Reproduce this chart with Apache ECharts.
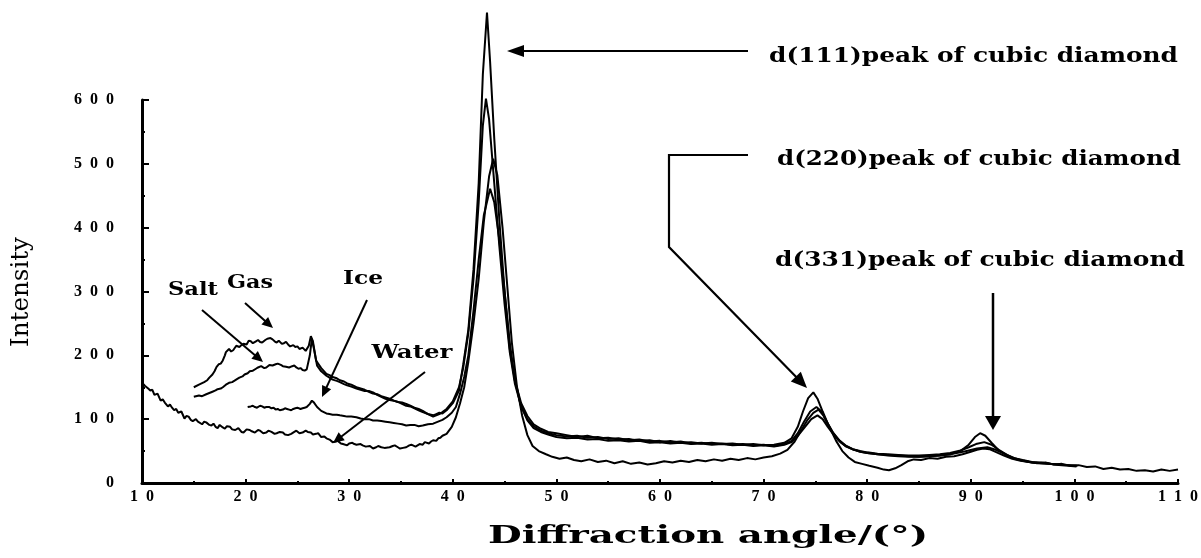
<!DOCTYPE html>
<html><head><meta charset="utf-8">
<script src="https://cdn.jsdelivr.net/npm/echarts/dist/echarts.min.js"></script>
<style>html,body{margin:0;padding:0;background:#fff}#c{width:1201px;height:558px}</style>
</head><body><div id="c"></div>
<script>
// ---- data (angle in degrees, intensity) ----
const xRange = [10, 110];
const yRange = [0, 600];
const xTitle = 'Diffraction angle/(°)';
const yTitle = 'Intensity';
const seriesNames = ['Salt', 'Gas', 'Ice', 'Water'];
const peakNotes = ['d(111)peak of cubic diamond', 'd(220)peak of cubic diamond', 'd(331)peak of cubic diamond'];

const water = [[10,157],[10.3,152],[10.6,148],[10.8,145],[11,146],[11.2,138],[11.5,140],[11.8,129],[12,131],[12.2,126],[12.5,120],[12.7,123],[12.9,118],[13.1,114],[13.3,116],[13.5,110],[13.8,112],[14.1,101],[14.3,105],[14.5,104],[14.7,99],[14.9,97],[15.2,100],[15.4,96],[15.8,92],[16,96],[16.2,95],[16.5,91],[16.7,90],[16.9,93],[17.1,88],[17.3,86],[17.5,91],[17.8,87],[18,85],[18.2,89],[18.5,88],[18.7,84],[19,83],[19.3,86],[19.6,80],[19.8,79],[20.1,84],[20.4,83],[20.6,81],[20.9,79],[21.2,83],[21.4,82],[21.7,78],[22,79],[22.2,82],[22.5,80],[22.8,77],[23,78],[23.3,80],[23.6,79],[23.8,76],[24.1,75],[24.4,77],[24.7,80],[24.9,82],[25.2,78],[25.5,79],[25.8,82],[26,80],[26.3,79],[26.5,76],[26.8,77],[27,78],[27.3,72],[27.6,73],[27.8,70],[28.1,68],[28.4,64],[28.7,65],[28.9,66],[29.2,62],[29.4,61],[29.8,59],[30,62],[30.3,63],[30.5,61],[30.7,60],[31.1,61],[31.3,59],[31.6,57],[32,58],[32.3,54],[32.6,56],[32.8,58],[33.1,56],[33.4,55],[33.9,56],[34.2,58],[34.4,59],[34.7,56],[34.9,54],[35.2,55],[35.5,56],[35.8,59],[36,60],[36.4,57],[36.6,59],[36.8,61],[37.1,60],[37.3,64],[37.7,62],[37.9,65],[38.1,67],[38.4,66],[38.6,70],[38.8,71],[39,74],[39.4,77],[39.9,88],[40.3,103],[40.7,125],[41.1,150],[41.5,190],[42,250],[42.5,320],[43,410],[43.5,480],[43.9,508],[44.3,482],[44.8,400],[45.2,320],[45.7,220],[46.2,150],[46.7,105],[47.2,75],[47.7,58],[48.3,50],[49,45],[49.6,41],[50.3,38],[51,40],[51.7,36],[52.4,34],[53.2,37],[54,33],[54.8,35],[55.6,31],[56.4,34],[57.2,30],[58,32],[58.8,29],[59.6,31],[60.4,34],[61.2,32],[62,35],[62.8,33],[63.6,36],[64.4,34],[65.2,37],[66,35],[66.8,38],[67.6,36],[68.4,39],[69.2,37],[70,40],[70.8,42],[71.6,46],[72.3,52],[73,65],[73.6,82],[74.2,98],[74.8,110],[75.3,115],[75.8,105],[76.4,86],[77,66],[77.6,50],[78.2,40],[78.8,33],[79.5,30],[80.2,27],[81,24],[81.6,21],[82.1,20],[82.7,23],[83.3,28],[83.9,34],[84.5,37],[85.2,36],[86,39],[86.8,38],[87.6,41],[88.4,42],[89.2,45],[90,49],[90.6,52],[91.2,54],[91.8,53],[92.5,48],[93.2,43],[94,38],[94.8,35],[95.6,33],[96.4,31],[97.2,32],[98,29],[98.8,30],[99.6,27],[100.4,28],[101.2,25],[102,26],[102.8,22],[103.6,24],[104.4,21],[105.2,22],[106,19],[106.8,20],[107.6,18],[108.4,21],[109.2,19],[110,21]];

const gas = [[15,150],[15.5,154],[16,158],[16.3,161],[16.5,165],[16.8,170],[17,175],[17.2,182],[17.4,186],[17.6,187],[17.8,192],[18,200],[18.1,205],[18.4,210],[18.6,206],[18.8,208],[19.1,215],[19.4,213],[19.6,216],[19.8,218],[20.1,217],[20.3,223],[20.5,222],[20.7,219],[21,222],[21.2,224],[21.4,221],[21.6,220],[21.9,224],[22.1,226],[22.4,227],[22.6,225],[22.8,222],[23,220],[23.2,223],[23.5,218],[23.7,219],[23.9,221],[24.1,217],[24.3,214],[24.6,216],[24.8,213],[25,214],[25.2,210],[25.5,212],[25.8,207],[26.1,215],[26.3,230],[26.5,222],[26.8,192],[27.3,180],[27.8,171],[28.1,169],[28.4,166],[28.8,164],[29.1,161],[29.5,159],[29.8,156],[30.2,154],[30.7,150],[31.1,148],[31.5,146],[31.9,143],[32.3,140],[32.7,139],[33.1,136],[33.5,134],[33.9,132],[34.3,129],[34.7,127],[35.1,124],[35.5,121],[35.9,120],[36.3,117],[36.7,114],[37.1,111],[37.6,108],[38.1,106],[38.4,108],[38.7,110],[39,109],[39.4,114],[40,125],[40.6,145],[41,185],[41.5,240],[42,335],[42.5,470],[42.9,640],[43.3,737],[43.6,660],[44,540],[44.5,410],[45,300],[45.5,210],[46,160],[46.6,125],[47.2,105],[47.8,92],[48.5,85],[49.2,80],[50,78],[51,75],[52,72],[53,74],[54,70],[55,71],[56,68],[57,69],[58,66],[59,67],[60,64],[61,66],[62,63],[63,64],[64,62],[65,63],[66,61],[67,62],[68,60],[69,61],[70,59],[71,60],[72,63],[72.7,70],[73.3,88],[73.8,112],[74.3,133],[74.8,142],[75.2,132],[75.7,112],[76.2,93],[76.7,79],[77.3,67],[77.9,58],[78.6,53],[79.3,49],[80,47],[81,45],[82,44],[83,43],[84,42],[85,41],[86,42],[87,43],[88,45],[89,50],[89.8,60],[90.4,72],[90.9,78],[91.4,74],[92,63],[92.7,51],[93.5,43],[94.2,38],[95,35],[95.9,32],[96.8,31],[97.6,30],[98.5,28],[99.4,27],[100.2,26]];

const salt = [[15,135],[15.5,137],[15.8,136],[16.2,139],[16.5,141],[16.8,143],[17.1,145],[17.3,147],[17.6,148],[17.8,150],[18.1,154],[18.4,157],[18.7,158],[18.9,160],[19.2,163],[19.4,165],[19.7,167],[19.9,170],[20.2,172],[20.4,175],[20.7,176],[21,179],[21.2,181],[21.5,183],[21.8,180],[22,181],[22.3,185],[22.6,184],[22.9,186],[23.1,187],[23.4,185],[23.6,183],[23.9,182],[24.2,181],[24.5,183],[24.7,184],[24.9,181],[25.1,179],[25.3,180],[25.5,177],[25.7,176],[25.9,178],[26.2,200],[26.4,226],[26.6,210],[26.9,184],[27.3,175],[27.8,168],[28.1,165],[28.4,162],[28.8,160],[29.1,158],[29.5,155],[29.8,153],[30.2,151],[30.7,148],[31.1,146],[31.5,144],[31.9,144],[32.3,142],[32.7,138],[33.1,135],[33.5,132],[33.9,130],[34.3,129],[34.7,127],[35.1,126],[35.5,124],[35.9,121],[36.3,118],[36.7,116],[37.1,113],[37.6,108],[38.1,104],[38.4,106],[38.7,108],[39,111],[39.4,116],[40,128],[40.6,150],[41,180],[41.5,235],[42,320],[42.5,440],[42.9,560],[43.2,602],[43.5,570],[44,470],[44.5,370],[45,280],[45.5,205],[46,155],[46.6,120],[47.2,100],[47.8,89],[48.5,82],[49.2,78],[50,75],[51,73],[52,74],[53,71],[54,72],[55,69],[56,70],[57,67],[58,68],[59,65],[60,66],[61,64],[62,65],[63,62],[64,63],[65,61],[66,62],[67,60],[68,61],[69,59],[70,60],[71,58],[72,61],[72.7,66],[73.3,78],[73.9,96],[74.5,112],[75.1,119],[75.6,112],[76.1,96],[76.6,81],[77.2,68],[77.9,59],[78.6,53],[79.3,50],[80,48],[81,46],[82,45],[83,44],[84,43],[85,43],[86,44],[87,45],[88,47],[89,51],[89.8,56],[90.5,61],[91.3,64],[92,60],[92.7,52],[93.5,44],[94.2,39],[95,36],[95.9,33],[96.8,32],[97.6,30],[98.5,29],[99.4,28],[100.3,27]];

const ice = [[20.2,119],[20.5,120],[20.7,121],[20.9,119],[21.1,118],[21.4,121],[21.6,120],[21.8,118],[22,119],[22.3,119],[22.5,117],[22.7,118],[22.9,115],[23.1,116],[23.3,114],[23.6,115],[23.8,117],[24,116],[24.2,115],[24.4,114],[24.6,116],[24.8,117],[25,118],[25.3,116],[25.5,117],[25.7,118],[25.9,119],[26.2,124],[26.4,129],[26.6,126],[26.9,119],[27.3,113],[27.8,109],[28.1,108],[28.4,107],[28.8,107],[29.1,106],[29.5,105],[29.8,104],[30.2,104],[30.7,103],[31.1,101],[31.5,100],[31.9,100],[32.3,98],[32.7,98],[33.1,97],[33.5,96],[33.9,95],[34.3,94],[34.7,93],[35.1,92],[35.5,90],[35.9,91],[36.3,91],[36.7,89],[37.1,90],[37.6,92],[38.1,93],[38.4,95],[38.7,97],[39,99],[39.4,103],[39.9,110],[40.3,119],[40.7,140],[41.1,166],[41.5,200],[42,270],[42.5,350],[43,420],[43.6,461],[44,440],[44.5,380],[45,300],[45.5,220],[46,160],[46.6,120],[47.2,98],[47.8,86],[48.5,80],[49.2,76],[50,72],[51,70],[52,71],[53,68],[54,69],[55,66],[56,67],[57,65],[58,66],[59,63],[60,64],[61,62],[62,63],[63,61],[64,62],[65,60],[66,61],[67,59],[68,60],[69,58],[70,59],[71,57],[72,60],[72.7,64],[73.3,74],[74,88],[74.6,100],[75.2,106],[75.7,100],[76.2,88],[76.8,75],[77.4,64],[78,57],[78.7,52],[79.4,49],[80,47],[81,45],[82,43],[83,42],[84,41],[85,41],[86,42],[87,43],[88,45],[89,48],[89.8,51],[90.6,54],[91.6,56],[92.4,52],[93.2,46],[94,40],[94.8,36],[95.7,33],[96.6,31],[97.5,30],[98.4,29],[99.3,28],[100.2,27]];

// ---- chart ----
const chart = echarts.init(document.getElementById('c'), null, {renderer: 'canvas'});
const spaced = v => String(v).split('').join('\u2002');
const mctx = document.createElement('canvas').getContext('2d');
function fitScale(text, font, target) { mctx.font = font; return target / mctx.measureText(text).width; }
function head(x1, y1, x2, y2, len, half) {
  const dx = x2 - x1, dy = y2 - y1, L = Math.hypot(dx, dy), ux = dx / L, uy = dy / L;
  const bx = x2 - ux * len, by = y2 - uy * len;
  return {tri: [[x2, y2], [bx - uy * half, by + ux * half], [bx + uy * half, by - ux * half]], base: [bx + ux * 2, by + uy * 2]};
}
const g = [];
function arrow(pts, len, half, w) {
  const n = pts.length;
  const h = head(pts[n - 2][0], pts[n - 2][1], pts[n - 1][0], pts[n - 1][1], len, half);
  const line = pts.slice(0, n - 1).concat([h.base]);
  g.push({type: 'polyline', shape: {points: line}, style: {stroke: '#000', lineWidth: w, fill: null}, z: 10});
  g.push({type: 'polygon', shape: {points: h.tri}, style: {fill: '#000'}, z: 10});
}
function label(text, x, y, family, weight, size, width, align, rot) {
  const font = weight + ' ' + size + 'px "' + family + '"';
  const sx = fitScale(text, font, width);
  g.push({type: 'text', x: x, y: y, rotation: rot || 0, scaleX: sx, z: 10,
    style: {text: text, x: 0, y: 0, fontFamily: family, fontWeight: weight, fontSize: size, fill: '#000',
      align: align, verticalAlign: 'middle', textAlign: align, textVerticalAlign: 'middle'}});
}
// annotations
label(peakNotes[0], 769, 57, 'DejaVu Serif', 'bold', 20, 409, 'left');
label(peakNotes[1], 777, 160, 'DejaVu Serif', 'bold', 20, 404, 'left');
label(peakNotes[2], 775, 261, 'DejaVu Serif', 'bold', 20, 410, 'left');
arrow([[748, 51], [507, 51]], 17, 6, 2.2);
arrow([[748, 155], [669, 155], [669, 247], [807, 388]], 16, 7, 2.2);
arrow([[993, 293], [993, 430]], 14, 8, 2.5);
label(seriesNames[0], 193, 290, 'DejaVu Serif', 'bold', 19, 50, 'center');
label(seriesNames[1], 250, 283, 'DejaVu Serif', 'bold', 19, 46, 'center');
label(seriesNames[2], 363, 279, 'DejaVu Serif', 'bold', 19, 40, 'center');
label(seriesNames[3], 412, 353, 'DejaVu Serif', 'bold', 19, 81, 'center');
arrow([[202, 310], [263, 362]], 11, 5, 2);
arrow([[245, 303], [273, 328]], 11, 5, 2);
arrow([[367, 300], [322, 397]], 11, 5, 2);
arrow([[425, 372], [333, 443]], 11, 5, 2);
// axis titles
label(yTitle, 22, 292, 'DejaVu Serif', 'normal', 24, 110, 'center', Math.PI / 2);
label(xTitle, 708, 537, 'DejaVu Serif', 'bold', 24, 440, 'center');

const mk = (name, data) => ({name: name, type: 'line', data: data, symbol: 'none', showSymbol: false, clip: false,
  lineStyle: {color: '#000', width: 2}, itemStyle: {color: '#000'}, animation: false});
const axisCommon = {
  axisLine: {show: true, onZero: false, lineStyle: {color: '#000', width: 3}},
  splitLine: {show: false},
  axisLabel: {color: '#000', fontFamily: 'Liberation Serif', fontWeight: 'bold', fontSize: 16, formatter: spaced}
};
chart.setOption({
  animation: false,
  backgroundColor: '#fff',
  grid: {left: 142, right: 19, top: 100, bottom: 75, containLabel: false},
  xAxis: Object.assign({}, axisCommon, {type: 'value', min: xRange[0], max: xRange[1], interval: 10,
    axisTick: {show: true, inside: true, length: 4, lineStyle: {color: '#000', width: 2}},
    minorTick: {show: true, splitNumber: 2, length: 2, lineStyle: {color: '#000', width: 2}},
    axisLabel: Object.assign({}, axisCommon.axisLabel, {margin: 6})}),
  yAxis: Object.assign({}, axisCommon, {type: 'value', min: yRange[0], max: yRange[1], interval: 100,
    axisTick: {show: true, inside: true, length: 7, lineStyle: {color: '#000', width: 2}},
    minorTick: {show: true, splitNumber: 2, length: 3, lineStyle: {color: '#000', width: 2}},
    axisLabel: Object.assign({}, axisCommon.axisLabel, {margin: 28})}),
  series: [mk(seriesNames[0], salt), mk(seriesNames[1], gas), mk(seriesNames[2], ice), mk(seriesNames[3], water)],
  graphic: g
});
</script></body></html>
